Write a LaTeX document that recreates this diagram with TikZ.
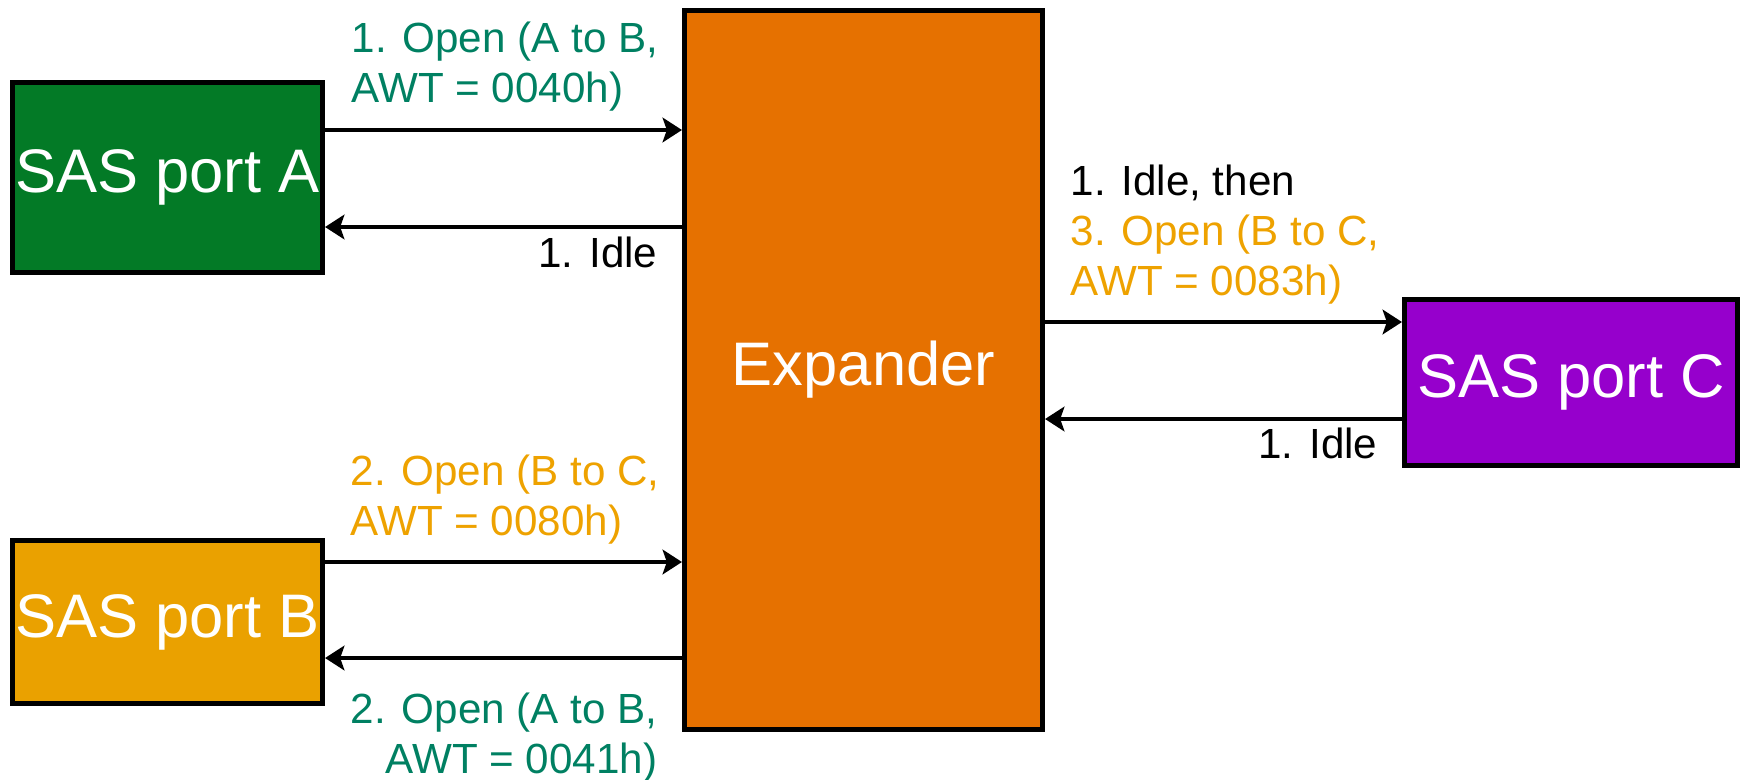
\documentclass[tikz,border=0pt]{standalone}
\usepackage{xcolor}
\usepackage{fontspec}
\setmainfont{Liberation Sans}
\usepackage{tikz}
\usetikzlibrary{arrows.meta, positioning}

\definecolor{portgreen}{RGB}{3,122,38}
\definecolor{portamber}{RGB}{234,161,0}
\definecolor{portpurple}{RGB}{150,0,204}
\definecolor{exporange}{RGB}{230,113,0}
\definecolor{tealtxt}{RGB}{0,128,98}
\definecolor{ambertxt}{RGB}{238,162,0}

\begin{document}
\begin{tikzpicture}[
    portbox/.style={draw=black, line width=1.45pt, text=white, inner sep=0pt,
        font=\fontsize{17.5}{20}\selectfont},
    flow/.style={line width=1.35pt, -{Stealth[length=5.5pt, width=7pt, inset=1.2pt]}},
    lbl/.style={font=\fontsize{12}{14.2}\selectfont, inner sep=0pt}
]
    \useasboundingbox (0,0) rectangle (17.42,-7.79);

    \node[portbox, fill=portgreen, minimum width=3.1cm, minimum height=1.9cm] (portA) at (1.675,-1.775) {SAS port A};
    \node[portbox, fill=portamber, minimum width=3.1cm, minimum height=1.63cm] (portB) at (1.675,-6.22) {SAS port B};
    \node[portbox, fill=exporange, minimum width=3.58cm, minimum height=7.19cm] (expander) at (8.635,-3.70) {Expander};
    \node[portbox, fill=portpurple, minimum width=3.33cm, minimum height=1.66cm] (portC) at (15.71,-3.825) {SAS port C};

    % links port <-> expander
    \draw[flow] ([yshift=0.475cm]portA.east) -- ([yshift=0.475cm]portA.east -| expander.west);
    \draw[flow] ([yshift=-0.495cm]portA.east -| expander.west) -- ([yshift=-0.495cm]portA.east);
    \draw[flow] ([yshift=0.60cm]portB.east) -- ([yshift=0.60cm]portB.east -| expander.west);
    \draw[flow] ([yshift=-0.36cm]portB.east -| expander.west) -- ([yshift=-0.36cm]portB.east);
    \draw[flow] ([yshift=0.605cm]portC.west -| expander.east) -- ([yshift=0.605cm]portC.west);
    \draw[flow] ([yshift=-0.365cm]portC.west) -- ([yshift=-0.365cm]portC.west -| expander.east);

    % primitives on each link (base = last line)
    \node[lbl, anchor=base west, align=left, text=tealtxt] (openAB) at (3.51,-1.02) {1. Open (A to B,\\AWT = 0040h)};
    \node[lbl, anchor=base east] (idleA) at (6.58,-2.67) {1. Idle};
    \node[lbl, anchor=base west, align=left] (idleC) at (10.70,-2.95)
        {1. Idle, then\\\textcolor{ambertxt}{3. Open (B to C,}\\\textcolor{ambertxt}{AWT = 0083h)}};
    \node[lbl, anchor=base east] (idleE) at (13.78,-4.58) {1. Idle};
    \node[lbl, anchor=base west, align=left, text=ambertxt] (openBC) at (3.50,-5.35) {2. Open (B to C,\\AWT = 0080h)};
    \node[lbl, anchor=base east, align=right, text=tealtxt] (openAB2) at (6.58,-7.73) {2. Open (A to B,\\AWT = 0041h)};
\end{tikzpicture}
\end{document}
